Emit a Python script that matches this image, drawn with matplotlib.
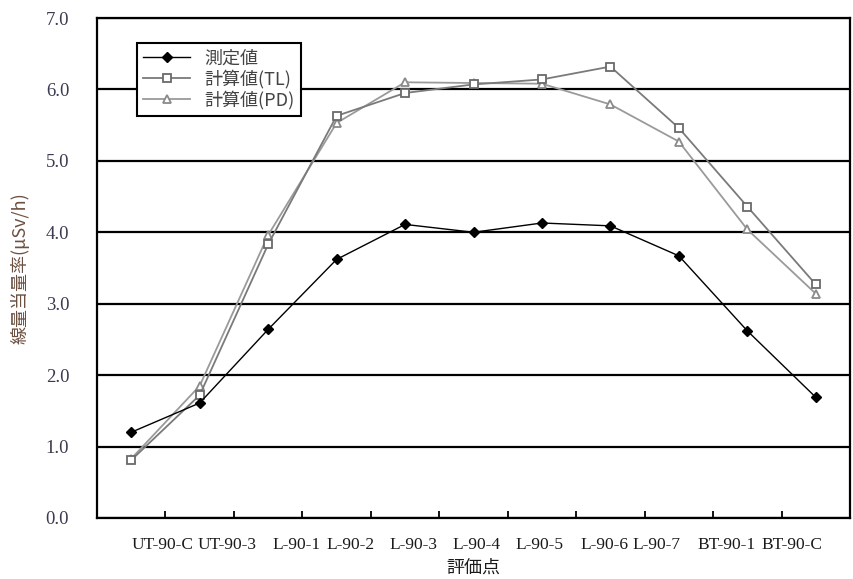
import matplotlib
matplotlib.use("Agg")
import matplotlib.pyplot as plt
import numpy as np

# --- data --------------------------------------------------------------------
points = ["UT-90-C", "UT-90-3", "L-90-1", "L-90-2", "L-90-3", "L-90-4",
          "L-90-5", "L-90-6", "L-90-7", "BT-90-1", "BT-90-C"]
measured = [1.20, 1.61, 2.64, 3.62, 4.11, 4.00, 4.13, 4.09, 3.67, 2.62, 1.69]
calc_tl  = [0.81, 1.72, 3.83, 5.63, 5.95, 6.07, 6.14, 6.32, 5.46, 4.36, 3.27]
calc_pd  = [0.83, 1.85, 3.96, 5.53, 6.10, 6.09, 6.08, 5.79, 5.27, 4.04, 3.14]
series_names = ["測定値", "計算値(TL)", "計算値(PD)"]
yticks = [0, 1, 2, 3, 4, 5, 6, 7]

# --- layout ------------------------------------------------------------------
# category labels in the source sit a little off the points
label_pos = [0.46, 1.40, 2.42, 3.20, 4.12, 5.05, 5.97, 6.92, 7.68, 8.70, 9.65]
cjk = ["Noto Sans CJK JP", "DejaVu Sans"]
serif = ["Liberation Serif", "DejaVu Serif"]

fig = plt.figure(figsize=(8.54, 5.79), dpi=100)
ax = fig.add_axes([0.1136, 0.1054, 0.8817, 0.8635])

x = np.arange(len(points))
ax.plot(x, measured, color="black", lw=1.0, marker="D", ms=5,
        mfc="black", mec="black", label=series_names[0], zorder=5)
ax.plot(x, calc_tl, color="#7a7a7a", lw=1.3, marker="s", ms=6,
        mfc="white", mec="#6a6a6a", mew=1.3, label=series_names[1], zorder=4)
ax.plot(x, calc_pd, color="#9a9a9a", lw=1.3, marker="^", ms=6,
        mfc="white", mec="#8a8a8a", mew=1.3, label=series_names[2], zorder=3)

ax.set_xlim(-0.5, len(points) - 0.5)
ax.set_ylim(0, 7)
ax.set_yticks(yticks)
ax.set_yticklabels([f"{v:.1f}" for v in yticks], family=serif,
                   fontsize=13.5, color="#3a3a50")
ax.yaxis.grid(True, color="black", lw=1.6)
ax.tick_params(axis="y", length=0, pad=20)

# tick marks on category boundaries, labels as minor ticks
ax.set_xticks(np.arange(len(points) + 1) - 0.5)
ax.set_xticklabels([])
ax.tick_params(axis="x", which="major", direction="in", length=5,
               width=1.3, color="black")
ax.set_xticks(label_pos, minor=True)
ax.set_xticklabels(points, minor=True, family=serif, fontsize=12.5,
                   color="#1a1a1a")
ax.tick_params(axis="x", which="minor", length=0, pad=14)

for s in ax.spines.values():
    s.set_linewidth(1.6)
    s.set_color("black")

ax.set_xlabel("評価点", family=cjk, fontsize=13, color="#1a1a1a", labelpad=4)
ax.set_ylabel("線量当量率(μSv/h)", family=cjk, fontsize=13,
              color="#6b5040", labelpad=12)

leg = ax.legend(loc="upper left", bbox_to_anchor=(0.053, 0.95),
                borderaxespad=0, fancybox=False, framealpha=1,
                edgecolor="black", handlelength=2.6, labelspacing=0.12,
                borderpad=0.35, prop={"family": cjk, "size": 13})
leg.get_frame().set_linewidth(1.5)
for t in leg.get_texts():
    t.set_color("#444444")

fig.savefig("out.png", dpi=100)
